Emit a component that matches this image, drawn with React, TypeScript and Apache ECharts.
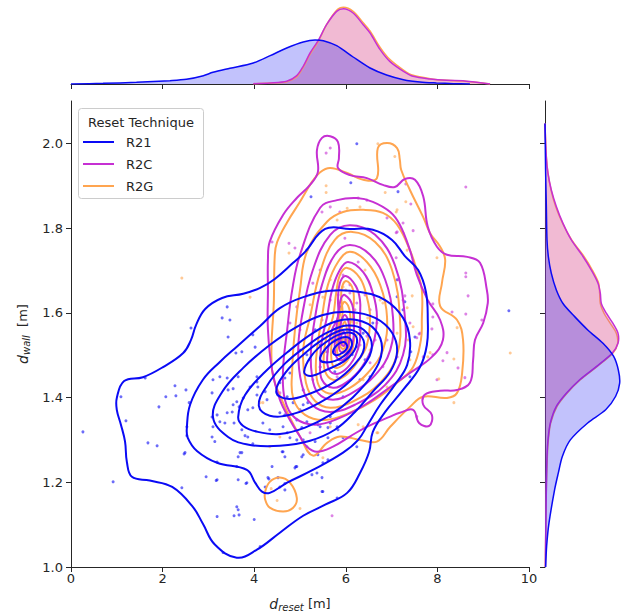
import React, { useEffect, useRef } from "react";
import * as echarts from "echarts";

const FONT = "DejaVu Sans";
const categories = ["R21", "R2C", "R2G"];
const palette = ["#0a0af5", "#c630d3", "#ffa550"];
const xTicks = [0, 2, 4, 6, 8, 10];
const yTicks = [1.0, 1.2, 1.4, 1.6, 1.8, 2.0];

// ---------- scatter points [d_reset, d_wall] ----------
const r21Points = [
  [3.41,1.614],[3.30,1.588],[3.47,1.583],[2.62,1.564],[3.43,1.543],[3.60,1.505],[4.02,1.519],[1.62,1.446],[2.27,1.428],[2.51,1.418],
  [2.07,1.402],[2.29,1.404],[1.92,1.378],[1.09,1.402],[1.20,1.345],[3.10,1.442],[3.25,1.449],[3.41,1.446],[3.65,1.449],[3.43,1.418],
  [3.54,1.421],[3.08,1.411],[2.58,1.388],[3.62,1.390],[3.54,1.383],[3.76,1.399],[3.86,1.371],[3.97,1.376],[3.19,1.359],[3.41,1.364],
  [3.08,1.354],[3.25,1.343],[3.56,1.340],[3.10,1.331],[3.73,1.324],[3.80,1.310],[2.53,1.331],[2.53,1.310],[3.08,1.307],[3.14,1.296],
  [1.68,1.293],[1.88,1.286],[2.49,1.270],[3.73,1.270],[3.65,1.260],[3.19,1.248],[3.62,1.237],[3.97,1.548],[4.06,1.449],[4.08,1.425],
  [4.06,1.406],[2.47,1.267],[2.95,1.213],[3.17,1.204],[3.82,1.197],[2.42,1.187],[3.65,1.135],[3.56,1.121],[3.67,1.123],[3.19,1.119],
  [4.00,1.112],[4.32,1.208],[4.52,1.211],[4.67,1.197],[4.67,1.182],[4.91,1.237],[4.61,1.272],[4.67,1.260],[5.07,1.265],[5.26,1.218],
  [5.48,1.211],[5.48,1.178],[5.81,1.163],[3.32,1.034],[4.13,1.048],[3.97,1.291],[3.73,1.508],[3.91,1.425],[3.67,1.378],[3.52,1.366],
  [3.36,1.340],[3.86,1.307],[3.69,1.270],[4.28,1.395],[4.56,1.435],[4.72,1.402],[4.78,1.458],[4.67,1.446],[5.07,1.418],[5.17,1.388],
  [4.56,1.364],[4.93,1.347],[4.19,1.340],[4.34,1.324],[4.72,1.317],[4.93,1.300],[5.15,1.284],[5.66,1.355],[5.94,1.402],[6.31,1.442],
  [6.53,1.449],[5.44,1.472],[5.22,1.489],[5.00,1.512],[5.59,1.508],[5.81,1.529],[5.94,1.552],[6.09,1.583],[5.87,1.614],[6.24,1.520],
  [6.38,1.552],[6.59,1.576],[5.50,1.246],[5.37,1.222],[4.93,1.237],[6.24,1.284],[3.65,1.206],[3.84,1.199],[3.19,1.206],[4.39,1.237],
  [4.56,1.189],[3.62,1.142],[5.81,1.331],[5.44,1.331],[7.12,1.638],[7.25,1.607],[7.51,1.543],[7.40,1.449],[5.50,1.178],[6.24,1.999],
  [6.11,1.907],[5.24,1.874],[7.14,1.886],[5.15,1.748],[7.12,1.678],[9.56,1.605],[7.42,1.508],[7.29,1.626],[4.06,1.437],[4.24,1.414],
  [4.52,1.406],[4.85,1.388],[5.07,1.383],[4.67,1.359],[5.00,1.371],[5.15,1.343],[5.39,1.336],[5.61,1.329],[5.04,1.329],[4.63,1.331],
  [4.78,1.305],[5.07,1.300],[5.33,1.296],[5.61,1.305],[5.94,1.305],[5.83,1.324],[4.63,1.272],[5.04,1.260],[5.39,1.265],[5.61,1.253],
  [4.89,1.234],[4.30,1.211],[4.24,1.189],[5.66,1.340],[5.98,1.536],[5.66,1.548],[6.14,1.501],[5.44,1.524],[5.87,1.572],[6.31,1.560],
  [5.15,1.501],[6.42,1.489],[5.33,1.560],[5.76,1.461],[0.26,1.319],[0.92,1.201]
];
const r2cPoints = [
  [5.66,1.989],[5.57,1.977],[6.27,1.871],[6.46,1.866],[5.66,1.850],[5.48,1.838],[5.87,1.838],[4.76,1.764],[4.89,1.753],[6.90,1.824],
  [7.12,1.791],[4.39,1.767],[5.98,1.776],[8.62,1.897],[7.31,1.904],[7.42,1.857],[7.25,1.812],[7.47,1.794],[7.10,1.789],[8.62,1.694],
  [8.62,1.685],[8.67,1.640],[7.10,1.730],[7.29,1.640],[7.14,1.678],[8.32,1.602],[8.62,1.597],[8.97,1.583],[7.90,1.621],[7.90,1.590],
  [7.60,1.550],[7.88,1.562],[8.21,1.506],[8.12,1.487],[7.90,1.501],[8.45,1.470],[8.60,1.447],[7.55,1.355],[7.55,1.541],[5.28,1.670],
  [5.59,1.654],[6.09,1.647],[6.24,1.623],[6.53,1.607],[6.68,1.576],[6.90,1.536],[6.53,1.482],[6.81,1.473],[7.25,1.630],[7.40,1.576],
  [7.62,1.552],[4.78,1.576],[4.93,1.614],[6.09,1.465],[5.81,1.449],[5.28,1.442],[5.22,1.317],[4.56,1.411],[7.12,1.496],[7.69,1.496],
  [7.99,1.442],[6.46,1.545],[5.70,1.121],[5.94,1.689],[6.09,1.666],[5.83,1.642],[6.20,1.607],[6.03,1.560],[5.72,1.536],[6.31,1.524],
  [5.98,1.484],[5.66,1.630],[6.42,1.642],[5.48,1.583],[6.64,1.536],[5.44,1.701],[6.27,1.720],[5.00,1.560]
];
const r2gPoints = [
  [2.42,1.682],[3.91,1.637],[4.37,1.185],[4.50,1.157],[5.00,1.138],[5.50,1.258],[5.57,1.900],[5.57,1.884],[6.70,1.999],[6.86,1.884],
  [7.07,1.969],[7.12,1.843],[6.31,1.850],[5.81,1.819],[6.03,1.847],[4.76,1.741],[7.31,1.862],[7.10,1.838],[7.25,1.789],[7.34,1.748],
  [7.99,1.730],[7.58,1.694],[7.45,1.640],[8.43,1.565],[8.36,1.491],[9.59,1.505],[8.03,1.444],[8.36,1.388],[7.79,1.496],[7.34,1.612],
  [7.47,1.567],[7.36,1.536],[5.50,1.637],[5.94,1.661],[6.24,1.576],[6.81,1.623],[7.12,1.552],[5.94,1.505],[6.53,1.512],[6.38,1.442],
  [6.90,1.425],[7.40,1.489],[6.68,1.317],[6.38,1.331],[5.66,1.331],[4.56,1.307],[4.34,1.284],[4.13,1.388],[7.84,1.506],[4.19,1.388],
  [6.27,1.336],[6.70,1.317],[6.00,1.654],[5.87,1.595],[6.14,1.579],[5.76,1.560],[6.24,1.548],[5.94,1.512],[5.55,1.508],[6.48,1.588],
  [5.22,1.619],[6.42,1.701],[5.66,1.678],[6.75,1.630],[5.79,1.477]
];

// ---------- KDE contour lines (closed loops), outermost first ----------
const r21Contours = [
  [[1.00,1.399],[1.16,1.439],[1.57,1.448],[2.01,1.472],[2.45,1.505],[2.62,1.536],[2.73,1.571],[2.93,1.609],[3.30,1.635],[3.76,1.645],
   [4.13,1.659],[4.45,1.680],[4.85,1.718],[5.11,1.744],[5.55,1.798],[6.09,1.798],[6.59,1.796],[7.01,1.772],[7.29,1.734],[7.58,1.701],
   [7.75,1.649],[7.79,1.583],[7.77,1.524],[7.62,1.472],[7.25,1.418],[6.86,1.366],[6.59,1.319],[6.51,1.272],[6.31,1.222],[6.03,1.175],
   [5.55,1.147],[5.07,1.121],[4.56,1.081],[4.06,1.041],[3.62,1.022],[3.14,1.053],[2.88,1.102],[2.66,1.142],[2.21,1.189],[1.72,1.204],
   [1.33,1.213],[1.22,1.248],[1.18,1.296],[1.09,1.336],[1.00,1.371]],
  [[2.53,1.329],[2.60,1.383],[2.88,1.442],[3.25,1.484],[3.62,1.520],[4.13,1.569],[4.56,1.611],[5.07,1.637],[5.66,1.652],[6.31,1.649],
   [6.86,1.630],[7.25,1.588],[7.40,1.536],[7.34,1.477],[7.07,1.430],[6.75,1.383],[6.48,1.336],[6.27,1.300],[5.94,1.270],[5.28,1.229],
   [4.72,1.199],[4.34,1.175],[4.17,1.178],[4.02,1.199],[3.84,1.229],[3.19,1.246],[2.75,1.274],[2.55,1.305]],
  [[3.10,1.354],[3.30,1.413],[3.76,1.470],[4.34,1.524],[4.93,1.567],[5.50,1.595],[6.09,1.602],[6.64,1.588],[7.01,1.553],[7.12,1.508],
   [6.97,1.461],[6.59,1.414],[6.20,1.366],[5.76,1.324],[5.22,1.298],[4.56,1.286],[3.91,1.288],[3.43,1.307]],
  [[3.65,1.354],[3.80,1.406],[4.24,1.461],[4.78,1.512],[5.28,1.552],[5.76,1.579],[6.24,1.583],[6.64,1.560],[6.79,1.512],[6.57,1.453],
   [6.14,1.399],[5.66,1.359],[5.11,1.329],[4.56,1.314],[4.08,1.319],[3.76,1.333]],
  [[4.10,1.381],[4.28,1.428],[4.67,1.480],[5.15,1.522],[5.59,1.553],[6.02,1.570],[6.39,1.560],[6.57,1.522],[6.39,1.475],[5.98,1.428],
   [5.43,1.388],[4.87,1.362],[4.34,1.357]],
  [[4.48,1.414],[4.70,1.461],[5.09,1.503],[5.53,1.539],[5.96,1.560],[6.29,1.550],[6.40,1.517],[6.18,1.477],[5.75,1.437],[5.16,1.407],
   [4.72,1.397]],
  [[5.09,1.460],[5.26,1.500],[5.57,1.531],[5.94,1.552],[6.20,1.548],[6.22,1.519],[6.00,1.489],[5.57,1.465],[5.24,1.451]],
  [[5.44,1.489],[5.57,1.517],[5.83,1.538],[6.07,1.541],[6.13,1.522],[5.96,1.498],[5.68,1.484]],
  [[5.72,1.508],[5.81,1.524],[5.96,1.531],[6.03,1.519],[5.92,1.505],[5.79,1.500]]
];
const r2cContours = [
  [[4.30,1.725],[4.34,1.768],[4.63,1.831],[4.93,1.871],[5.22,1.902],[5.39,1.932],[5.37,1.984],[5.48,2.013],[5.66,2.017],[5.83,2.003],
   [5.85,1.965],[5.83,1.942],[6.09,1.925],[6.46,1.918],[6.81,1.902],[7.07,1.897],[7.29,1.916],[7.51,1.914],[7.69,1.875],[7.79,1.803],
   [7.99,1.756],[8.21,1.737],[8.65,1.732],[8.93,1.718],[9.08,1.654],[9.10,1.623],[9.00,1.576],[8.82,1.536],[8.78,1.489],[8.71,1.435],
   [8.43,1.418],[8.06,1.416],[7.73,1.407],[7.69,1.383],[7.88,1.359],[7.82,1.333],[7.60,1.340],[7.47,1.371],[7.18,1.364],[6.97,1.355],
   [6.46,1.331],[6.09,1.308],[5.72,1.284],[5.37,1.272],[5.15,1.284],[5.00,1.308],[4.78,1.347],[4.56,1.395],[4.39,1.465],[4.30,1.560],
   [4.30,1.654]],
  [[5.00,1.737],[5.44,1.848],[5.81,1.866],[6.24,1.871],[6.59,1.862],[6.97,1.838],[7.18,1.808],[7.40,1.748],[7.55,1.690],[7.79,1.630],
   [8.06,1.583],[8.12,1.536],[7.88,1.496],[7.40,1.458],[6.97,1.425],[6.42,1.383],[5.87,1.352],[5.33,1.336],[4.89,1.352],[4.67,1.395],
   [4.63,1.465],[4.72,1.560],[4.83,1.654]],
  [[6.09,1.807],[6.64,1.784],[7.07,1.713],[7.29,1.590],[7.25,1.501],[6.86,1.430],[6.20,1.383],[5.66,1.366],[5.26,1.383],[5.04,1.430],
   [4.96,1.512],[5.04,1.590],[5.28,1.701],[5.66,1.784]],
  [[6.09,1.760],[6.53,1.737],[6.86,1.678],[7.03,1.590],[6.97,1.512],[6.64,1.453],[6.14,1.411],[5.72,1.395],[5.39,1.411],[5.26,1.453],
   [5.24,1.512],[5.33,1.590],[5.48,1.666],[5.76,1.737]],
  [[6.05,1.720],[6.38,1.696],[6.59,1.647],[6.68,1.590],[6.59,1.524],[6.35,1.472],[6.03,1.437],[5.72,1.423],[5.48,1.442],[5.44,1.484],
   [5.48,1.536],[5.59,1.590],[5.70,1.654],[5.87,1.701]],
  [[6.00,1.687],[6.22,1.663],[6.31,1.630],[6.31,1.590],[6.31,1.536],[6.20,1.496],[5.98,1.465],[5.76,1.456],[5.61,1.472],[5.61,1.512],
   [5.70,1.560],[5.83,1.590],[5.83,1.630],[5.87,1.670]],
  [[5.98,1.642],[6.14,1.619],[6.18,1.572],[6.14,1.524],[6.00,1.494],[5.85,1.489],[5.76,1.512],[5.79,1.560],[5.85,1.607],[5.90,1.635]],
  [[5.98,1.595],[6.07,1.572],[6.07,1.531],[5.98,1.508],[5.87,1.510],[5.85,1.541],[5.90,1.579]],
  [[5.96,1.555],[6.00,1.536],[5.96,1.522],[5.90,1.527],[5.90,1.546]]
];
const r2gContours = [
  [[4.45,1.737],[4.50,1.767],[4.72,1.814],[5.00,1.862],[5.26,1.909],[5.44,1.932],[5.66,1.942],[6.03,1.930],[6.38,1.914],[6.68,1.918],
   [6.70,1.989],[6.90,2.001],[7.12,1.989],[7.18,1.961],[7.21,1.937],[7.40,1.890],[7.69,1.826],[7.84,1.788],[8.06,1.756],[8.17,1.725],
   [8.10,1.671],[8.06,1.616],[8.43,1.583],[8.56,1.536],[8.54,1.458],[8.43,1.411],[8.21,1.399],[7.69,1.402],[7.40,1.378],[6.97,1.331],
   [6.68,1.296],[6.31,1.300],[5.87,1.308],[5.59,1.293],[5.28,1.263],[5.00,1.308],[4.63,1.388],[4.39,1.465],[4.43,1.630]],
  [[4.24,1.178],[4.34,1.201],[4.56,1.211],[4.78,1.199],[4.93,1.163],[4.85,1.140],[4.63,1.131],[4.34,1.140],[4.24,1.159]],
  [[5.15,1.744],[5.59,1.815],[5.94,1.838],[6.38,1.843],[6.81,1.836],[7.12,1.808],[7.40,1.748],[7.55,1.701],[7.66,1.654],[7.66,1.583],
   [7.64,1.536],[7.47,1.472],[7.12,1.435],[6.64,1.395],[6.09,1.364],[5.55,1.347],[5.11,1.359],[4.85,1.399],[4.83,1.465],[4.89,1.560],
   [5.00,1.654]],
  [[6.14,1.791],[6.64,1.767],[7.01,1.701],[7.18,1.590],[7.12,1.501],[6.75,1.435],[6.14,1.390],[5.66,1.376],[5.33,1.392],[5.13,1.435],
   [5.07,1.512],[5.22,1.590],[5.44,1.696],[5.76,1.772]],
  [[6.09,1.744],[6.46,1.720],[6.75,1.666],[6.90,1.590],[6.81,1.512],[6.48,1.458],[6.09,1.423],[5.72,1.409],[5.44,1.423],[5.35,1.461],
   [5.37,1.512],[5.48,1.590],[5.61,1.666],[5.83,1.720]],
  [[6.03,1.706],[6.31,1.682],[6.46,1.637],[6.53,1.590],[6.46,1.524],[6.24,1.482],[5.98,1.451],[5.72,1.442],[5.55,1.461],[5.52,1.501],
   [5.59,1.548],[5.72,1.590],[5.79,1.647],[5.87,1.689]],
  [[6.00,1.675],[6.16,1.654],[6.16,1.590],[6.18,1.536],[6.09,1.498],[5.92,1.475],[5.74,1.472],[5.68,1.501],[5.72,1.543],[5.92,1.590],
   [5.90,1.649]],
  [[5.98,1.626],[6.09,1.602],[6.09,1.560],[6.07,1.520],[5.96,1.498],[5.83,1.501],[5.81,1.531],[5.85,1.579],[5.90,1.612]],
  [[5.98,1.579],[6.03,1.555],[6.03,1.527],[5.94,1.515],[5.87,1.524],[5.90,1.560]],
  [[5.96,1.543],[5.98,1.531],[5.94,1.527],[5.92,1.536]]
];

// ---------- marginal densities ----------
// top: [d_reset, density]
const r21Top = [[0.0,0],[0.7,2],[1.43,5],[2.16,10],[2.52,14],[2.89,25],[3.1,35],[3.47,47],[3.98,63],[4.35,85],[4.71,108],[5.07,126],
  [5.33,132],[5.51,130],[5.8,115],[6.16,81],[6.53,48],[6.89,27],[7.26,13],[7.62,6],[7.98,3],[8.35,1],[8.71,0]];
const r2cTop = [[3.98,1],[4.35,3],[4.71,8],[4.93,25],[5.07,53],[5.22,93],[5.4,131],[5.58,178],[5.8,218],[5.95,226],[6.16,213],
  [6.38,178],[6.53,153],[6.75,103],[6.96,68],[7.26,38],[7.47,23],[7.84,15],[8.2,11],[8.56,10],[8.85,5],[9.15,0]];
const r2gTop = [[3.98,1],[4.35,3],[4.71,7],[4.93,22],[5.07,50],[5.22,90],[5.4,128],[5.58,178],[5.8,221],[5.95,230],[6.16,218],
  [6.38,184],[6.53,159],[6.75,110],[6.96,74],[7.26,42],[7.47,26],[7.84,16],[8.2,11],[8.56,9],[8.85,5],[9.15,0]];
// right: [d_wall, density]
const r21Right = [[1.0,2],[1.05,5],[1.104,12],[1.183,29],[1.222,40],[1.261,52],[1.30,76],[1.34,128],[1.371,182],[1.403,212],
  [1.434,224],[1.465,220],[1.497,206],[1.528,174],[1.559,129],[1.591,89],[1.622,54],[1.654,34],[1.693,19],[1.733,10],[1.772,6],
  [1.851,4],[1.929,2],[2.047,0]];
const r2cRight = [[1.0,1],[1.183,4],[1.261,6],[1.30,9],[1.34,16],[1.379,34],[1.41,64],[1.442,104],[1.473,154],[1.505,202],
  [1.528,219],[1.552,219],[1.575,204],[1.599,184],[1.622,169],[1.646,166],[1.67,159],[1.701,139],[1.733,114],[1.772,79],[1.811,54],
  [1.851,34],[1.89,19],[1.929,9],[1.968,4],[2.047,0]];
const r2gRight = [[1.0,1],[1.183,4],[1.261,7],[1.30,10],[1.34,17],[1.379,36],[1.41,66],[1.442,106],[1.473,156],[1.505,204],
  [1.528,218],[1.552,214],[1.575,196],[1.599,177],[1.622,166],[1.646,164],[1.67,161],[1.701,142],[1.733,117],[1.772,80],[1.811,53],
  [1.851,32],[1.89,18],[1.929,9],[1.968,4],[2.047,0]];

const groups = [
  { points: r21Points, contours: r21Contours, top: r21Top, right: r21Right },
  { points: r2cPoints, contours: r2cContours, top: r2cTop, right: r2cRight },
  { points: r2gPoints, contours: r2gContours, top: r2gTop, right: r2gRight },
];

function rgba(hex: string, a: number) {
  const n = parseInt(hex.slice(1), 16);
  return `rgba(${(n >> 16) & 255},${(n >> 8) & 255},${n & 255},${a})`;
}

const INK = "#262626";

export default function App() {
  const ref = useRef<HTMLDivElement>(null);
  useEffect(() => {
    document.body.style.margin = "0";
    const chart = echarts.init(ref.current!, null, { renderer: "svg" });
    const drawOrder = [2, 1, 0];
    const series: any[] = [];

    groups.forEach((g, i) => {
      series.push({
        type: "scatter", xAxisIndex: 0, yAxisIndex: 0, data: g.points, symbolSize: 3, z: 1,
        itemStyle: { color: palette[i], opacity: 0.6 }, silent: true,
      });
    });

    drawOrder.forEach((i) => {
      const g = groups[i];
      series.push({
        type: "custom", xAxisIndex: 0, yAxisIndex: 0, z: 2, silent: true,
        data: g.contours.map((c, k) => [c[0][0], c[0][1], k]),
        renderItem: (params: any, api: any) => {
          const k = api.value(2);
          const pts = g.contours[k].map((p: number[]) => api.coord(p));
          return {
            type: "polygon",
            shape: { points: pts, smooth: 0.4 },
            style: { fill: "none", stroke: palette[i], lineWidth: 2 },
          };
        },
      });
      series.push({
        type: "line", xAxisIndex: 1, yAxisIndex: 1, data: g.top, smooth: 0.3, symbol: "none", z: 2, silent: true,
        lineStyle: { color: palette[i], width: 1.5 },
        areaStyle: { color: palette[i], opacity: 0.25 },
      });
      series.push({
        type: "custom", xAxisIndex: 2, yAxisIndex: 2, z: 2, silent: true,
        data: [[0, g.right[0][0]]],
        renderItem: (params: any, api: any) => {
          const curve = g.right.map((p: number[]) => api.coord([p[1], p[0]]));
          const b0 = api.coord([0, g.right[0][0]]);
          const b1 = api.coord([0, g.right[g.right.length - 1][0]]);
          return {
            type: "group",
            children: [
              { type: "polygon", shape: { points: [b0, ...curve, b1], smooth: 0.3 }, style: { fill: rgba(palette[i], 0.25), stroke: "none" } },
              { type: "polyline", shape: { points: curve, smooth: 0.3 }, style: { fill: "none", stroke: palette[i], lineWidth: 1.5 } },
            ],
          };
        },
      });
    });

    const richName = {
      d: { fontStyle: "italic", fontSize: 14, fontFamily: FONT, color: INK },
      s: { fontStyle: "italic", fontSize: 10, fontFamily: FONT, color: INK, padding: [7, 0, 0, 0] },
      n: { fontSize: 13, fontFamily: FONT, color: INK },
    };

    const legendEls: any[] = [
      { type: "rect", shape: { x: 78.5, y: 108.5, width: 125, height: 90, r: 3 },
        style: { fill: "rgba(255,255,255,0.8)", stroke: "#cccccc", lineWidth: 1 }, z: 100 },
      { type: "text", x: 141, y: 122, z: 101,
        style: { text: "Reset Technique", fontSize: 13, fontFamily: FONT, fill: INK, align: "center", verticalAlign: "middle" } },
    ];
    categories.forEach((c, i) => {
      const y = 142 + i * 22;
      legendEls.push({ type: "line", shape: { x1: 83, y1: y, x2: 114, y2: y }, style: { stroke: palette[i], lineWidth: 2 }, z: 101 });
      legendEls.push({ type: "text", x: 126, y, z: 101,
        style: { text: c, fontSize: 13, fontFamily: FONT, fill: INK, align: "left", verticalAlign: "middle" } });
    });

    const option: any = {
      animation: false,
      textStyle: { fontFamily: FONT },
      grid: [
        { left: 71, top: 101, width: 458, height: 466, outerBoundsMode: "none", containLabel: false },
        { left: 71, top: 4, width: 458, height: 80, outerBoundsMode: "none", containLabel: false },
        { left: 545, top: 101, width: 80, height: 466, outerBoundsMode: "none", containLabel: false },
      ],
      xAxis: [
        { gridIndex: 0, type: "value", min: 0, max: 10, interval: 2,
          axisLine: { show: true, lineStyle: { color: INK, width: 1 } },
          axisTick: { show: true, length: 5, lineStyle: { color: INK }, customValues: xTicks },
          axisLabel: { fontSize: 13, color: INK, margin: 5, fontFamily: FONT, customValues: xTicks },
          splitLine: { show: false },
          name: "{d|d}{s|reset} {n|[m]}", nameLocation: "middle", nameGap: 28,
          nameTextStyle: { fontFamily: FONT, fontSize: 13, color: INK, rich: richName } },
        { gridIndex: 1, type: "value", min: 0, max: 10, interval: 2,
          axisLine: { show: true, lineStyle: { color: INK, width: 1 } },
          axisTick: { show: true, length: 5, lineStyle: { color: INK }, customValues: xTicks },
          axisLabel: { show: false }, splitLine: { show: false } },
        { gridIndex: 2, type: "value", min: 0, max: 240, show: false, splitLine: { show: false } },
      ],
      yAxis: [
        { gridIndex: 0, type: "value", min: 1.0, max: 2.1, interval: 0.2,
          axisLine: { show: true, lineStyle: { color: INK, width: 1 } },
          axisTick: { show: true, length: 5, lineStyle: { color: INK }, customValues: yTicks },
          axisLabel: { fontSize: 13, color: INK, margin: 8, fontFamily: FONT, customValues: yTicks,
            formatter: (v: number) => v.toFixed(1) },
          splitLine: { show: false },
          name: "{d|d}{s|wall}  {n|[m]}", nameLocation: "middle", nameGap: 34, nameRotate: 90,
          nameTextStyle: { fontFamily: FONT, fontSize: 13, color: INK, rich: richName } },
        { gridIndex: 1, type: "value", min: 0, max: 240, show: false, splitLine: { show: false } },
        { gridIndex: 2, type: "value", min: 1.0, max: 2.1, interval: 0.2,
          axisLine: { show: true, lineStyle: { color: INK, width: 1 } },
          axisTick: { show: true, length: 5, lineStyle: { color: INK }, customValues: yTicks },
          axisLabel: { show: false }, splitLine: { show: false } },
      ],
      graphic: { elements: legendEls },
      series,
    };
    chart.setOption(option);
    return () => chart.dispose();
  }, []);
  return <div ref={ref} style={{ width: 624, height: 612 }} />;
}
